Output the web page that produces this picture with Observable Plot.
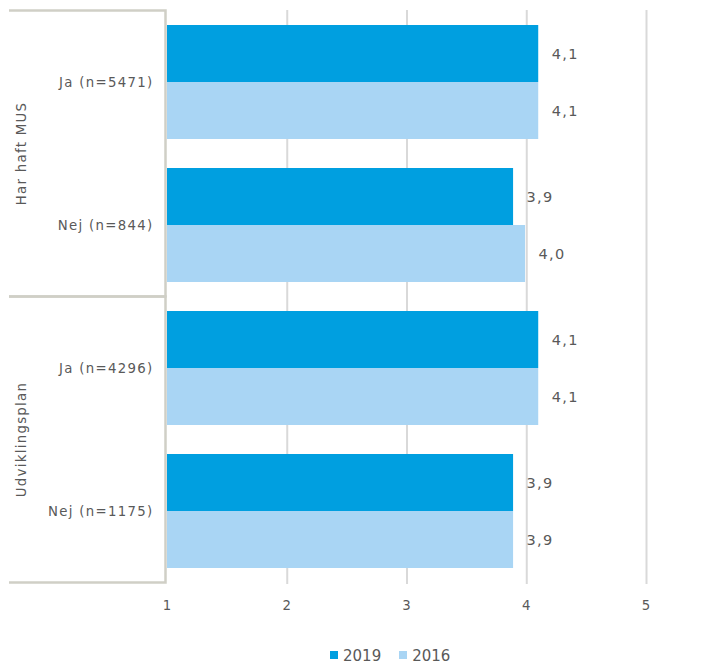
<!DOCTYPE html>
<html>
<head>
<meta charset="utf-8">
<script src="https://cdn.jsdelivr.net/npm/d3@7"></script>
<script src="https://cdn.jsdelivr.net/npm/@observablehq/plot@0.6"></script>
<style>
  body { margin: 0; background: #fff; }
  #legend { height: 31px; display: flex; align-items: center; padding-left: 330px; font-family: "DejaVu Sans", Verdana, sans-serif; font-size: 15px; color: #595959; }
  #legend .sw { width: 8px; height: 8px; margin-right: 5px; margin-top: -2px; }
  #legend .it { display: flex; align-items: center; margin-right: 18px; }
</style>
</head>
<body>
<div id="chart"></div>
<div id="legend"></div>
<script>
const categories = ["Ja (n=5471)", "Nej (n=844)", "Ja (n=4296)", "Nej (n=1175)"];
const groups = ["Har haft MUS", "Udviklingsplan"];
const groupOfCategory = [0, 0, 1, 1];
const years = ["2019", "2016"];
const values2019 = [4.10, 3.89, 4.10, 3.89];
const values2016 = [4.10, 3.99, 4.10, 3.89];
const yearColors = ["#009fe0", "#a9d5f4"];
const xTicks = [1, 2, 3, 4, 5];
const xMin = 1, xMax = 5;

const rows2019 = categories.map((c, i) => ({cat: c, year: years[0], value: values2019[i]}));
const rows2016 = categories.map((c, i) => ({cat: c, year: years[1], value: values2016[i]}));
const fmt = v => v.toFixed(1).replace(".", ",");

function build(bw) {
  return Plot.plot({
    width: 726,
    height: 640,
    marginTop: 10,
    marginBottom: 56,
    marginLeft: 167,
    marginRight: 80,
    x: {domain: [xMin, xMax], ticks: xTicks, tickFormat: d => String(d), tickSize: 0, tickPadding: 16, label: null},
    y: {domain: categories, paddingInner: 0.2, paddingOuter: 0.1, tickSize: 0, tickPadding: 14, label: null},
    marks: [
      Plot.ruleX(xTicks.slice(1), {stroke: "#d9d9d9", strokeWidth: 2}),
      Plot.barX(rows2019, {x1: xMin, x2: "value", y: "cat", fill: yearColors[0], insetBottom: bw / 2}),
      Plot.barX(rows2016, {x1: xMin, x2: "value", y: "cat", fill: yearColors[1], insetTop: bw / 2}),
      Plot.text(rows2019, {x: "value", y: "cat", text: d => fmt(d.value), dx: 13, dy: -bw / 4, textAnchor: "start", fill: "#595959", fontSize: 14.5}),
      Plot.text(rows2016, {x: "value", y: "cat", text: d => fmt(d.value), dx: 13, dy: bw / 4, textAnchor: "start", fill: "#595959", fontSize: 14.5})
    ]
  });
}

const probe = build(0);
const bw = probe.scale("y").bandwidth;
const chart = build(bw);
chart.style.fontFamily = "'DejaVu Sans', Verdana, sans-serif";
chart.style.fontSize = "13.3px";
chart.style.letterSpacing = "1.3px";
chart.style.color = "#595959";
chart.style.background = "#fff";
document.getElementById("chart").appendChild(chart);

// group frame lines and group labels, positioned from the plot's own scales
const ys = chart.scale("y");
const xs = chart.scale("x");
const gap = ys.step - ys.bandwidth;
const svg = d3.select(chart);
const xLine = xs.apply(xMin) - 1.5;
const xLeft = 9;
const g = svg.append("g");
groups.forEach((name, gi) => {
  const idx = groupOfCategory.map((v, i) => v === gi ? i : -1).filter(i => i >= 0);
  const top = ys.apply(categories[idx[0]]) - gap / 2;
  const bottom = ys.apply(categories[idx[idx.length - 1]]) + ys.bandwidth + gap / 2;
  g.append("path")
    .attr("d", `M${xLeft},${top}H${xLine}V${bottom}H${xLeft}`)
    .attr("fill", "none").attr("stroke", "#d0cfc6").attr("stroke-width", 2.5);
  g.append("text")
    .attr("transform", `translate(21,${(top + bottom) / 2}) rotate(-90)`)
    .attr("text-anchor", "middle")
    .attr("dominant-baseline", "central")
    .attr("fill", "#595959")
    .attr("font-size", 13.3)
    .text(name);
});

const legend = d3.select("#legend");
years.forEach((y, i) => {
  const it = legend.append("div").attr("class", "it");
  it.append("div").attr("class", "sw").style("background", yearColors[i]);
  it.append("span").text(y);
});
</script>
</body>
</html>
